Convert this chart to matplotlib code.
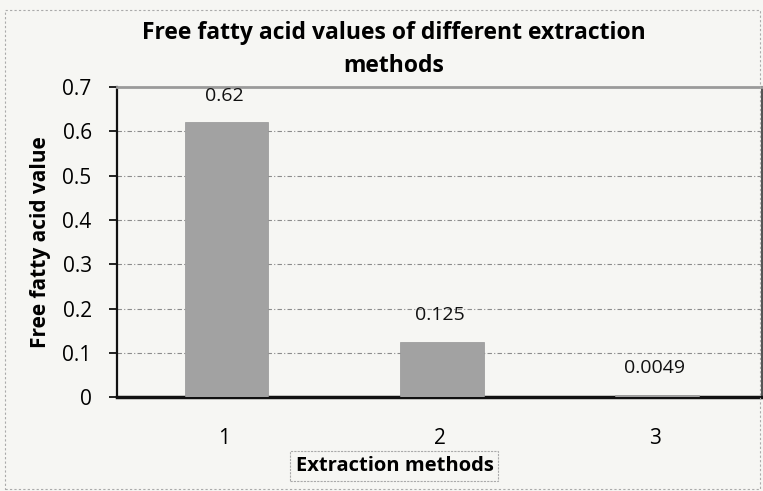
import numpy as np
import matplotlib.pyplot as plt
from matplotlib.patches import Rectangle

plt.rcParams['font.family'] = ['Open Sans', 'DejaVu Sans']

# data
methods = ['1', '2', '3']
ffa = [0.62, 0.125, 0.0049]
ffa_labels = ['0.62', '0.125', '0.0049']
yticks = [0, 0.1, 0.2, 0.3, 0.4, 0.5, 0.6, 0.7]
ytick_labels = ['0', '0.1', '0.2', '0.3', '0.4', '0.5', '0.6', '0.7']

bg = '#f6f6f3'
fig = plt.figure(figsize=(7.63, 4.91), dpi=100, facecolor=bg)
ax = fig.add_axes([0.153, 0.191, 0.846, 0.632], facecolor=bg)

x = np.arange(1, len(methods) + 1)
ax.bar(x + 0.01, ffa, width=0.39, color='#a2a2a2', edgecolor='#959595', linewidth=0.5, zorder=3)

for xi, v, lab in zip(x, ffa, ffa_labels):
    ax.text(xi, v + 0.06, lab, ha='center', va='center', fontsize=14, color='#111111')

ax.set_xlim(0.5, 3.5)
ax.set_ylim(0, 0.7)
ax.set_yticks(yticks)
ax.set_yticklabels(ytick_labels, fontsize=15)
ax.set_xticks(x)
ax.set_xticklabels(methods, fontsize=15)
ax.tick_params(axis='x', length=0, pad=22)
ax.tick_params(axis='y', length=6, width=1.3, color='#111111', pad=12)

for yv in yticks[1:-1]:
    ax.axhline(yv, color='#8c8c8c', linestyle=(0, (4, 2, 1, 2)), linewidth=0.8, zorder=1)

ax.spines['left'].set_linewidth(1.6)
ax.spines['left'].set_color('#111111')
ax.spines['bottom'].set_linewidth(2.5)
ax.spines['bottom'].set_color('#111111')
ax.spines['top'].set_linewidth(2)
ax.spines['top'].set_color('#9a9a9a')
ax.spines['right'].set_linewidth(1.5)
ax.spines['right'].set_color('#555555')

fig.text(0.516, 0.9, 'Free fatty acid values of different extraction\nmethods',
         ha='center', va='center', fontsize=16.5, fontweight='bold', linespacing=1.5)
ax.set_ylabel('Free fatty acid value', fontsize=15, fontweight='bold', labelpad=8)
fig.text(0.517, 0.051, 'Extraction methods', ha='center', va='center', fontsize=14.5,
         fontweight='bold',
         bbox=dict(boxstyle='square,pad=0.25', facecolor='none', edgecolor='#aaaaaa',
                   linestyle=(0, (2, 1)), linewidth=0.8))

fig.patches.append(Rectangle((0.006, 0.005), 0.99, 0.975, transform=fig.transFigure,
                             fill=False, edgecolor='#aaaaaa', linestyle=(0, (2, 2)),
                             linewidth=0.8))

fig.savefig('out.png', dpi=100, facecolor=bg)
